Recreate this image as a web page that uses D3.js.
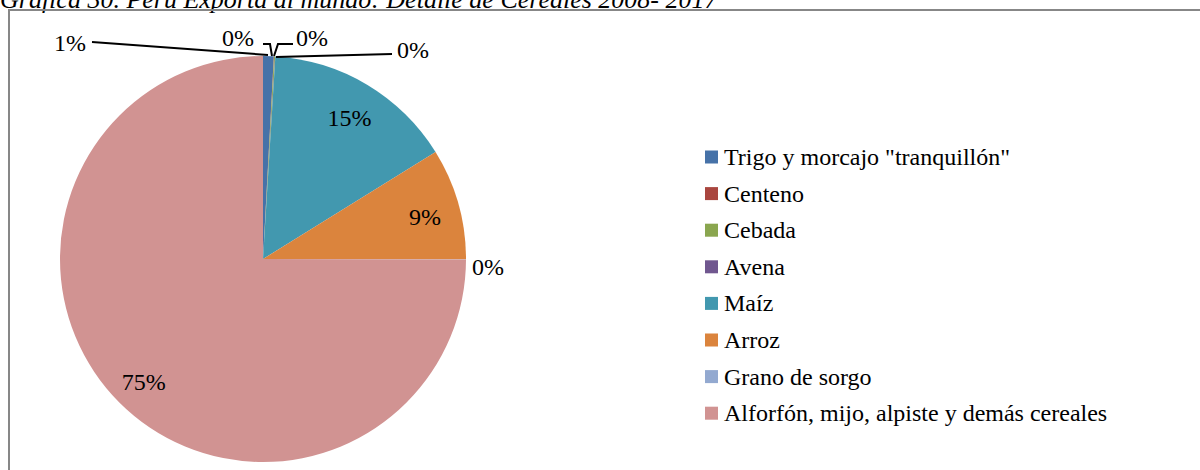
<!DOCTYPE html>
<html>
<head>
<meta charset="utf-8">
<script src="https://cdn.jsdelivr.net/npm/d3@7"></script>
<style>
  html, body { margin: 0; padding: 0; background: #ffffff; }
  svg { display: block; }
  svg text { font-family: "Liberation Serif", "Times New Roman", Times, "DejaVu Serif", serif; }
</style>
</head>
<body>
<svg id="chart" width="1200" height="470"></svg>
<script>
// ---- data ----
const titleText = "Gráfica 30. Perú Exporta al mundo: Detalle de Cereales 2008- 2017";
const categories = [
  "Trigo y morcajo \"tranquillón\"",
  "Centeno",
  "Cebada",
  "Avena",
  "Maíz",
  "Arroz",
  "Grano de sorgo",
  "Alforfón, mijo, alpiste y demás cereales"
];
const shares = [0.85, 0.02, 0.08, 0.02, 15.2, 8.85, 0.01, 74.97];
const colors = ["#4672A8", "#A9463F", "#8AA64F", "#70578F", "#4298AF", "#DB843D", "#93A9D0", "#D19392"];

// ---- layout ----
const svg = d3.select("#chart");
const cx = 263, cy = 259, R = 203;

// title (cropped at top, as in the reference)
svg.append("text")
  .attr("x", 0).attr("y", 8)
  .attr("font-style", "italic").attr("font-size", 26)
  .attr("fill", "#000")
  .text(titleText);

// frame
svg.append("rect")
  .attr("x", 9).attr("y", 10).attr("width", 1200).attr("height", 470)
  .attr("fill", "none").attr("stroke", "#878787").attr("stroke-width", 2);

const total = d3.sum(shares);
const pct = d3.format(".0%");
const data = categories.map((c, i) => ({ name: c, value: shares[i], color: colors[i] }));
const pie = d3.pie().sort(null).value(d => d.value);
const arcs = pie(data);
const arc = d3.arc().innerRadius(0).outerRadius(R);
const labelArc = d3.arc().innerRadius(R * 0.83).outerRadius(R * 0.83);

const g = svg.append("g").attr("transform", `translate(${cx},${cy})`);
g.selectAll("path.slice").data(arcs).enter().append("path")
  .attr("class", "slice")
  .attr("d", arc)
  .attr("fill", d => d.data.color);

// labels: big slices inside, small slices outside with leader lines
const outside = {
  0: { pos: [-193, -216], line: [[-171, -217], [5, -204]] },
  1: { pos: [-25, -221], line: [[0, -215], [7, -215], [9, -203]] },
  2: { pos: [49, -221], line: [[30, -215], [15, -215], [11, -203]] },
  3: { pos: [150, -209], line: [[129, -205], [13, -202]] },
  6: { pos: [225, 8], line: null }
};

const line = d3.line();
arcs.forEach((a, i) => {
  const txt = pct(a.data.value / total);
  let p;
  if (outside[i]) {
    p = outside[i].pos;
    if (outside[i].line) {
      g.append("path").attr("d", line(outside[i].line))
        .attr("fill", "none").attr("stroke", "#000").attr("stroke-width", 2);
    }
  } else {
    const c = labelArc.centroid(a);
    p = [c[0], c[1] + 4];
  }
  g.append("text")
    .attr("x", p[0]).attr("y", p[1])
    .attr("text-anchor", "middle").attr("dominant-baseline", "central")
    .attr("font-size", 24).attr("fill", "#000")
    .text(txt);
});

// legend
const legend = svg.append("g").attr("transform", "translate(705,157)");
const rowH = 36.6;
const items = legend.selectAll("g").data(data).enter().append("g")
  .attr("transform", (d, i) => `translate(0,${i * rowH})`);
items.append("rect").attr("x", 0).attr("y", -6.5).attr("width", 13).attr("height", 13)
  .attr("fill", d => d.color);
items.append("text").attr("x", 19).attr("y", 0)
  .attr("dominant-baseline", "central")
  .attr("font-size", 24).attr("fill", "#000")
  .text(d => d.name);
</script>
</body>
</html>
